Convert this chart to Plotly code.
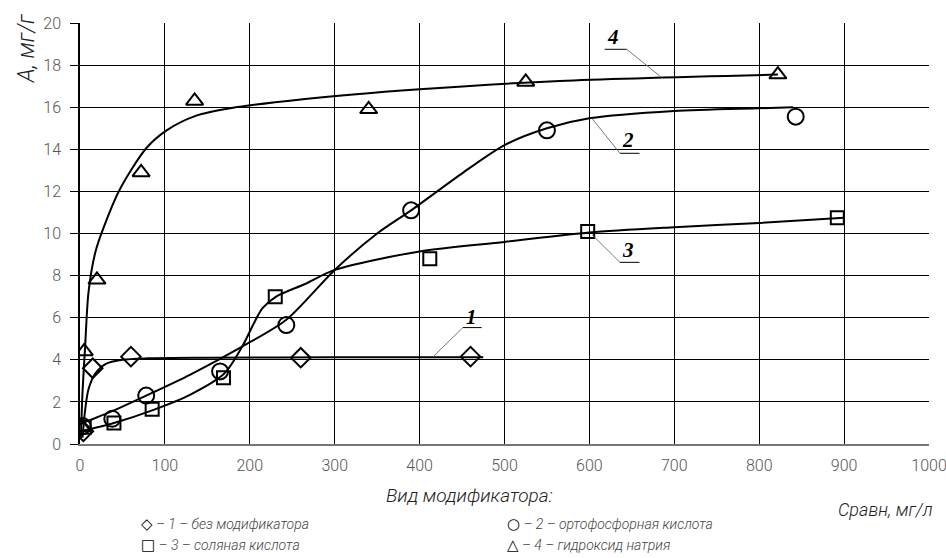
import plotly.graph_objects as go

# --- measured points -------------------------------------------------------
# 1 - без модификатора (diamonds)
s1_x = [4, 15, 60, 260, 460]
s1_y = [0.6, 3.6, 4.15, 4.1, 4.15]
# 2 - ортофосфорная кислота (circles)
s2_x = [3, 38, 78, 165, 243, 390, 550, 843]
s2_y = [0.85, 1.2, 2.3, 3.45, 5.65, 11.1, 14.9, 15.55]
# 3 - соляная кислота (squares)
s3_x = [5, 40, 85, 169, 230, 412, 598, 892]
s3_y = [0.8, 1.0, 1.65, 3.15, 7.0, 8.8, 10.1, 10.75]
# 4 - гидроксид натрия (triangles)
s4_x = [2, 5, 20, 72, 135, 340, 525, 822]
s4_y = [0.8, 4.4, 7.8, 12.9, 16.3, 15.9, 17.2, 17.55]

# --- smoothed trend curves -------------------------------------------------
c1_x = [3, 6, 10, 18, 30, 50, 80, 150, 300, 475]
c1_y = [0.3, 1.6, 2.6, 3.35, 3.8, 4.0, 4.07, 4.1, 4.12, 4.12]
c2_x = [0, 40, 78, 130, 192, 243, 300, 350, 390, 448, 500, 550, 600, 700, 800, 840]
c2_y = [0.95, 1.6, 2.3, 3.3, 4.65, 5.9, 8.27, 10.0, 11.1, 12.8, 14.2, 15.0, 15.47, 15.82, 15.95, 16.0]
c3_x = [0, 40, 85, 130, 170, 192, 205, 215, 231, 265, 300, 400, 500, 600, 700, 800, 900]
c3_y = [0.6, 1.0, 1.6, 2.35, 3.35, 4.7, 5.75, 6.45, 7.0, 7.6, 8.27, 9.15, 9.6, 10.05, 10.3, 10.5, 10.75]
c4_x = [1, 3, 6, 10, 18, 28, 47, 78, 102, 137, 177, 260, 400, 565, 822]
c4_y = [0.3, 2.5, 4.6, 7.2, 9.1, 10.3, 12.1, 14.05, 14.9, 15.6, 15.95, 16.37, 16.85, 17.25, 17.55]

# --- axes ------------------------------------------------------------------
x_ticks = [0, 100, 200, 300, 400, 500, 600, 700, 800, 900, 1000]
y_ticks = [0, 2, 4, 6, 8, 10, 12, 14, 16, 18, 20]

# curve number labels: (text, text x, text y, underline x0, x1, underline y, leader end x, leader end y, leader from left?)
curve_labels = [
    ("4", 628, 19.35, 618, 644, 18.75, 683, 17.48, False),
    ("2", 645, 14.45, 636, 659, 13.81, 603, 15.47, True),
    ("3", 646, 9.22, 636, 659, 8.63, 603, 9.95, True),
    ("1", 461, 6.05, 451, 473, 5.53, 416, 4.15, True),
]

SANS = "Roboto, Liberation Sans, sans-serif"
SERIF = "Liberation Serif, Times New Roman, serif"

fig = go.Figure()

line_style = dict(color="black", width=2, shape="spline", smoothing=0.8)
for cx, cy in [(c1_x, c1_y), (c2_x, c2_y), (c3_x, c3_y), (c4_x, c4_y)]:
    fig.add_trace(go.Scatter(x=cx, y=cy, mode="lines", line=line_style,
                             hoverinfo="skip", showlegend=False))

markers = [
    (s1_x, s1_y, "diamond-open", 15),
    (s2_x, s2_y, "circle-open", 16),
    (s3_x, s3_y, "square-open", 13),
    (s4_x, s4_y, "triangle-up-open", 15),
]
for mx, my, sym, size in markers:
    fig.add_trace(go.Scatter(
        x=mx, y=my, mode="markers",
        marker=dict(symbol=sym, size=size, color="black",
                    line=dict(color="black", width=2)),
        showlegend=False))

for txt, tx, ty, ux0, ux1, uy, lx, ly, from_left in curve_labels:
    fig.add_annotation(x=tx, y=ty, text=f"<b><i>{txt}</i></b>", showarrow=False,
                       font=dict(family=SERIF, size=21, color="black"))
    fig.add_shape(type="line", x0=ux0, x1=ux1, y0=uy, y1=uy,
                  line=dict(color="black", width=1))
    sx = ux0 if from_left else ux1
    fig.add_shape(type="line", x0=sx, y0=uy, x1=lx, y1=ly,
                  line=dict(color="#777777", width=1))

# axis titles
fig.add_annotation(x=-0.062, y=1.025, xref="paper", yref="paper", xanchor="center",
                   yanchor="top", textangle=-90, showarrow=False,
                   text="<i>A, мг/г</i>",
                   font=dict(family=SANS, size=23, color="#222222", weight=300))
fig.add_annotation(x=1.007, y=-0.155, xref="paper", yref="paper", xanchor="right",
                   yanchor="middle", showarrow=False, text="<i>Cравн, мг/л</i>",
                   font=dict(family=SANS, size=18, color="#222222", weight=300))

# key to the markers
fig.add_annotation(x=0.459, y=-0.123, xref="paper", yref="paper", xanchor="center",
                   yanchor="middle", showarrow=False,
                   text="<i>Вид модификатора:</i>",
                   font=dict(family=SANS, size=19, color="#222222", weight=300))
key = [
    ("◇", "– 1 – без модификатора", 0.07, -0.19),
    ("□", "– 3 – соляная кислота", 0.07, -0.24),
    ("○", "– 2 – ортофосфорная кислота", 0.50, -0.19),
    ("△", "– 4 – гидроксид натрия", 0.50, -0.24),
]
for sym, label, kx, ky in key:
    fig.add_annotation(
        x=kx, y=ky, xref="paper", yref="paper", xanchor="left",
        yanchor="middle", showarrow=False,
        text=(f"<span style='color:black;font-size:15px;font-family:DejaVu Sans'>"
              f"<b>{sym}</b></span> <i>{label}</i>"),
        font=dict(family=SANS, size=14, color="#444444", weight=300))

fig.update_xaxes(range=[0, 1000], tickvals=x_ticks, ticktext=[str(v) for v in x_ticks],
                 showgrid=True, gridcolor="black", gridwidth=1,
                 showline=True, linecolor="#777777", linewidth=2,
                 ticks="outside", ticklen=6, tickcolor="rgba(0,0,0,0)",
                 ticklabeloverflow="allow", automargin=False,
                 zeroline=False, mirror=False,
                 tickfont=dict(family=SANS, size=16, color="#555555", weight=300))
fig.update_yaxes(range=[0, 20], tickvals=y_ticks, ticktext=[str(v) for v in y_ticks],
                 showgrid=True, gridcolor="black", gridwidth=1,
                 showline=True, linecolor="black", linewidth=1.5,
                 ticks="outside", ticklen=8, tickcolor="black",
                 ticklabelstandoff=6, zeroline=False, automargin=False,
                 tickfont=dict(family=SANS, size=16, color="#555555", weight=300))

fig.update_layout(
    width=946, height=558,
    margin=dict(l=80, r=17, t=23, b=114),
    plot_bgcolor="white", paper_bgcolor="white",
    showlegend=False,
)

fig.write_html("out.html")
